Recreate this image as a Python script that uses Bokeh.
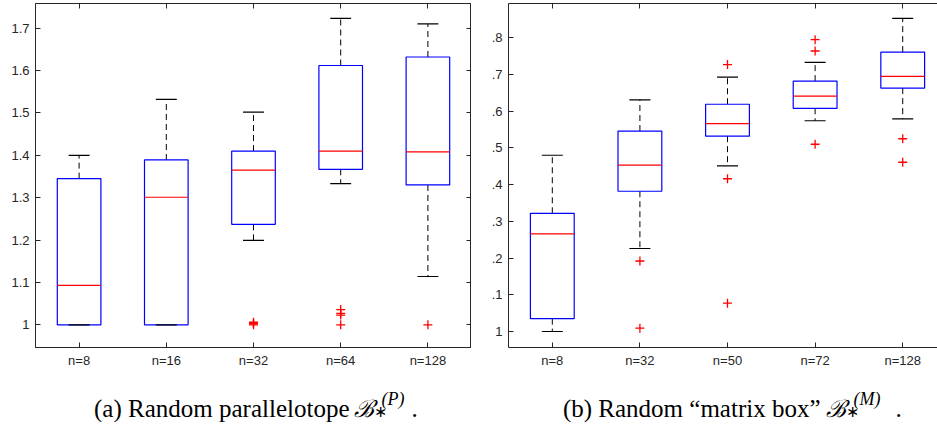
from bokeh.plotting import figure
from bokeh.models import FixedTicker, LinearAxis, Range1d, CustomJSTickFormatter
from bokeh.layouts import row, column
from bokeh.core.properties import value
from bokeh.embed import file_html
from bokeh.resources import INLINE

# ---------------- data: panel (a) ----------------
labels_a = ["n=8", "n=16", "n=32", "n=64", "n=128"]
q1_a = [1.000, 1.000, 1.237, 1.367, 1.330]
med_a = [1.093, 1.301, 1.365, 1.410, 1.408]
q3_a = [1.345, 1.389, 1.410, 1.612, 1.632]
lo_a = [1.000, 1.000, 1.199, 1.333, 1.114]
hi_a = [1.400, 1.532, 1.502, 1.723, 1.710]
out_a = [[], [], [1.000, 1.003, 1.006], [1.036, 1.027, 1.023, 1.000], [1.000]]
yticks_a = [1.0, 1.1, 1.2, 1.3, 1.4, 1.5, 1.6, 1.7]
ylabels_a = ["1", "1.1", "1.2", "1.3", "1.4", "1.5", "1.6", "1.7"]

# ---------------- data: panel (b) ----------------
labels_b = ["n=8", "n=32", "n=50", "n=72", "n=128"]
q1_b = [0.035, 0.382, 0.532, 0.608, 0.663]
med_b = [0.266, 0.453, 0.566, 0.641, 0.695]
q3_b = [0.322, 0.546, 0.619, 0.682, 0.761]
lo_b = [0.000, 0.226, 0.451, 0.574, 0.579]
hi_b = [0.480, 0.631, 0.693, 0.733, 0.853]
out_b = [[], [0.192, 0.009], [0.727, 0.416, 0.077], [0.795, 0.764, 0.510], [0.525, 0.461]]
yticks_b = [0.0, 0.1, 0.2, 0.3, 0.4, 0.5, 0.6, 0.7, 0.8]
ylabels_b = ["1", ".1", ".2", ".3", ".4", ".5", ".6", ".7", ".8"]

captions = ["(a) Random parallelotope", "(b) Random \u201cmatrix box\u201d"]
sups = ["(P)", "(M)"]

AX = "#262626"
PH = 369          # panel figure height
BLANK = CustomJSTickFormatter(code="return ''")


def style_axis(ax, show):
    ax.major_tick_in = 5
    ax.major_tick_out = 0
    ax.minor_tick_line_color = None
    ax.axis_line_color = AX
    ax.major_tick_line_color = AX
    ax.major_label_text_color = AX
    ax.major_label_text_font = "Liberation Sans"
    ax.major_label_text_font_size = "13px"
    ax.major_label_standoff = 5 if show else 0
    if not show:
        ax.formatter = BLANK


def panel(labels, q1, med, q3, lo, hi, outs, yticks, ylabels, yr, x_end,
          width, min_left, full_box):
    n = len(labels)
    xs = list(range(1, n + 1))
    p = figure(width=width, height=PH, x_range=Range1d(0.5, x_end),
               y_range=Range1d(*yr), output_backend="svg",
               toolbar_location=None, x_axis_location=None,
               y_axis_location=None, min_border_left=min_left,
               min_border_right=0, min_border_top=0, min_border_bottom=25)
    p.grid.visible = False
    p.outline_line_color = AX if full_box else None

    xover = {x: l for x, l in zip(xs, labels)}
    yover = {t: l for t, l in zip(yticks, ylabels)}

    ax = LinearAxis(ticker=FixedTicker(ticks=xs), major_label_overrides=xover)
    style_axis(ax, True)
    p.add_layout(ax, "below")
    ax = LinearAxis(ticker=FixedTicker(ticks=xs))
    style_axis(ax, False)
    p.add_layout(ax, "above")
    ay = LinearAxis(ticker=FixedTicker(ticks=yticks), major_label_overrides=yover)
    style_axis(ay, True)
    ay.major_label_standoff = 6
    p.add_layout(ay, "left")
    if full_box:
        ay = LinearAxis(ticker=FixedTicker(ticks=yticks))
        style_axis(ay, False)
        p.add_layout(ay, "right")

    # whiskers
    p.segment(x0=xs, y0=q3, x1=xs, y1=hi, line_color="black", line_dash="6 4", line_width=1)
    p.segment(x0=xs, y0=q1, x1=xs, y1=lo, line_color="black", line_dash="6 4", line_width=1)
    # boxes
    p.quad(left=[x - 0.25 for x in xs], right=[x + 0.25 for x in xs],
           bottom=q1, top=q3, fill_color=None, line_color="#0000ff", line_width=1.2)
    # caps
    p.segment(x0=[x - 0.12 for x in xs], y0=hi, x1=[x + 0.12 for x in xs], y1=hi,
              line_color="black", line_width=1.2)
    p.segment(x0=[x - 0.12 for x in xs], y0=lo, x1=[x + 0.12 for x in xs], y1=lo,
              line_color="black", line_width=1.2)
    # medians
    p.segment(x0=[x - 0.25 for x in xs], y0=med, x1=[x + 0.25 for x in xs], y1=med,
              line_color="#ff0000", line_width=1.2)
    # outliers
    ox, oy = [], []
    for x, o in zip(xs, outs):
        ox += [x] * len(o)
        oy += o
    p.scatter(x=ox, y=oy, marker="cross", size=9, line_color="#ff0000", line_width=1.3)
    return p


p1 = panel(labels_a, q1_a, med_a, q3_a, lo_a, hi_a, out_a, yticks_a, ylabels_a,
           (0.9464, 1.7583), 5.5, 463, 25, True)
p2 = panel(labels_b, q1_b, med_b, q3_b, lo_b, hi_b, out_b, yticks_b, ylabels_b,
           (-0.0436, 0.8934), 5.397, 466, 37, False)

# caption strip: ranges expressed in page pixels (y grows downward)
pc = figure(width=929, height=50, x_range=Range1d(8, 937), y_range=Range1d(422, 372),
            output_backend="svg", toolbar_location=None, x_axis_location=None,
            y_axis_location=None, min_border=0)
pc.grid.visible = False
pc.outline_line_color = None

serif = value("Liberation Serif")
# (main text end, B start, sub start, sup start, dot start) per caption
cap_pos = [(349, 353, 373, 381, 411), (820, 825, 845, 853, 895)]
for cap, sup, (xe, xb, xs_, xp, xd) in zip(captions, sups, cap_pos):
    pc.text(x=[xe], y=[408], text=[cap], text_align="right", text_baseline="alphabetic",
            text_font=serif, text_font_size="25px", text_color="black")
    pc.text(x=[xb], y=[408], text=["\u212c"], text_align="left", text_baseline="alphabetic",
            text_font=serif, text_font_size="24px", text_font_style="italic", text_color="black")
    pc.text(x=[xs_], y=[411], text=["\u2217"], text_align="left", text_baseline="alphabetic",
            text_font=serif, text_font_size="16px", text_color="black")
    pc.text(x=[xp], y=[398], text=[sup], text_align="left", text_baseline="alphabetic",
            text_font=serif, text_font_size="18px", text_font_style="italic", text_color="black")
    pc.text(x=[xd], y=[408], text=["."], text_align="left", text_baseline="alphabetic",
            text_font=serif, text_font_size="25px", text_color="black")

layout = column(row(p1, p2), pc, margin=(3, 0, 0, 8))

open("out.html", "w").write(file_html(layout, INLINE))
